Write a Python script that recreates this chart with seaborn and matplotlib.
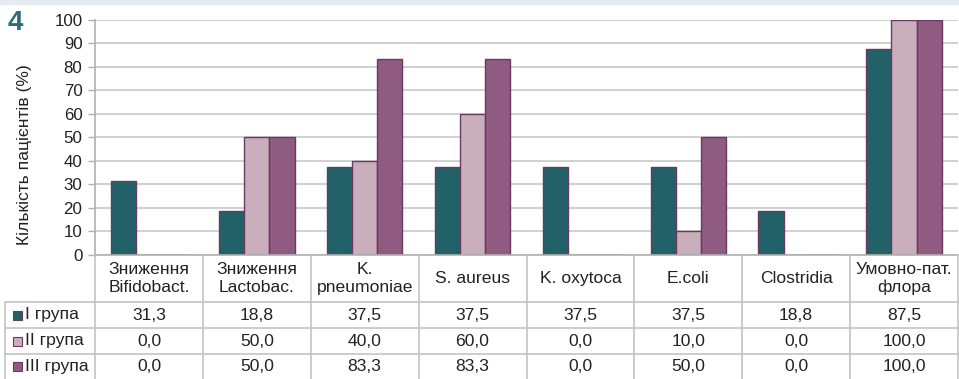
import pandas as pd
import matplotlib.pyplot as plt
import seaborn as sns
from matplotlib.lines import Line2D
from matplotlib.patches import Rectangle

categories = ["Зниження\nBifidobact.", "Зниження\nLactobac.", "K.\npneumoniae", "S. aureus",
              "K. oxytoca", "E.coli", "Clostridia", "Умовно-пат.\nфлора"]
groups = ["I група", "II група", "III група"]
group1 = [31.3, 18.8, 37.5, 37.5, 37.5, 37.5, 18.8, 87.5]
group2 = [0.0, 50.0, 40.0, 60.0, 0.0, 10.0, 0.0, 100.0]
group3 = [0.0, 50.0, 83.3, 83.3, 0.0, 50.0, 0.0, 100.0]
colors = ["#226168", "#c9aebb", "#8f5b80"]

W, H = 959, 379
FS = 12.6
FS_TICK = 12.2


def fx(x):
    return x / W


def fy(y):
    return 1 - y / H


def main():
    rows = []
    for g, vals in zip(groups, [group1, group2, group3]):
        for c, v in zip(categories, vals):
            rows.append({"cat": c, "group": g, "value": v})
    df = pd.DataFrame(rows)

    sns.set_theme(style="white")
    plt.rcParams['font.family'] = ['Liberation Sans', 'DejaVu Sans']

    fig = plt.figure(figsize=(W / 100, H / 100), dpi=100)
    fig.patch.set_facecolor("white")
    # light band at top
    fig.add_artist(Rectangle((0, fy(5)), 1, 5 / H, transform=fig.transFigure,
                             facecolor="#e4ecf0", edgecolor="none"))

    x0, x1, y0, y1 = 95, 958, 255, 19.5
    ax = fig.add_axes([fx(x0), fy(y0), fx(x1) - fx(x0), (y0 - y1) / H])
    sns.barplot(data=df, x="cat", y="value", hue="group", palette=colors, saturation=1,
                width=0.7, edgecolor="#6b3a60", linewidth=1.0, ax=ax, legend=False)
    ax.set_ylim(0, 100)
    ax.set_xlim(-0.5, len(categories) - 0.5)
    ax.set_yticks(range(0, 101, 10))
    ax.yaxis.grid(True, color="#c8c8c8", linewidth=1.2)
    ax.set_axisbelow(True)
    ax.set_xticks([])
    ax.set_xlabel("")
    ax.set_ylabel("")
    ax.tick_params(axis="y", labelsize=FS_TICK, colors="#222222", length=5, width=1,
                   color="#b0b0b0", pad=4, left=True)
    for s in ["top", "right"]:
        ax.spines[s].set_visible(False)
    ax.spines["left"].set_color("#b0b0b0")
    ax.spines["bottom"].set_color("#b0b0b0")
    ax.spines["left"].set_linewidth(1.2)
    ax.spines["bottom"].set_linewidth(1.2)

    # y axis title, placed a bit lower than the axes centre as in the original
    fig.text(fx(25), fy(155), "Кількість пацієнтів (%)", fontsize=FS, color="#222222",
             rotation=90, ha="center", va="center")

    # figure number
    fig.text(fx(15), fy(23), "4", fontsize=20, fontweight="bold", color="#2a6e76",
             ha="center", va="center")

    # data table under the chart
    lc = "#c4c4c4"
    cw = (x1 - x0) / len(categories)
    row_y = [255, 302, 328, 354, 379]
    right = x1

    def hline(y, xa, xb):
        fig.add_artist(Line2D([fx(xa), fx(xb)], [fy(y), fy(y)], color=lc, linewidth=1.2))

    def vline(x, ya, yb):
        fig.add_artist(Line2D([fx(x), fx(x)], [fy(ya), fy(yb)], color=lc, linewidth=1.2))

    for y in row_y[1:4]:
        hline(y, 5, right)
    vline(5, row_y[1], H)
    for i in range(len(categories) + 1):
        vline(x0 + i * cw, row_y[0], H)

    for i, c in enumerate(categories):
        cx = x0 + (i + 0.5) * cw
        fig.text(fx(cx), fy((row_y[0] + row_y[1]) / 2), c, fontsize=FS, color="#222222",
                 ha="center", va="center", linespacing=1.25)

    for r, (g, vals, col) in enumerate(zip(groups, [group1, group2, group3], colors)):
        cy = (row_y[r + 1] + row_y[r + 2]) / 2
        fig.add_artist(Rectangle((fx(13), fy(cy + 4.5)), 9 / W, 9 / H, transform=fig.transFigure,
                                 facecolor=col, edgecolor="#6b3a60", linewidth=0.8))
        fig.text(fx(25), fy(cy), g, fontsize=FS, color="#222222", ha="left", va="center")
        for i, v in enumerate(vals):
            cx = x0 + (i + 0.5) * cw
            fig.text(fx(cx), fy(cy), f"{v:.1f}".replace(".", ","), fontsize=FS,
                     color="#222222", ha="center", va="center")

    fig.savefig("out.png", dpi=100)


if __name__ == "__main__":
    main()
